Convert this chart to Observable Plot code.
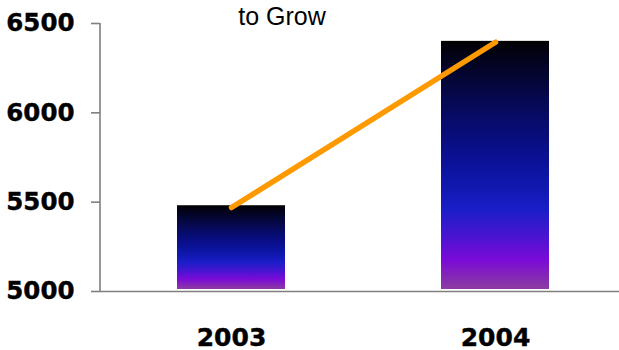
<!DOCTYPE html>
<html>
<head>
<meta charset="utf-8">
<script src="https://cdn.jsdelivr.net/npm/d3@7"></script>
<script src="https://cdn.jsdelivr.net/npm/@observablehq/plot@0.6"></script>
<style>
  html, body { margin: 0; padding: 0; background: #fff; }
  #chart svg { display: block; }
  .boldtxt text { stroke: #000; stroke-width: 0.4px; paint-order: stroke; }
</style>
</head>
<body>
<div id="chart"></div>
<script>
const years = ["2003", "2004"];
const barValues = [5480, 6400];
const lineValues = [5470, 6395];
const yTicks = [5000, 5500, 6000, 6500];
const titleText = "to Grow";

const bars = years.map((y, i) => ({year: y, value: barValues[i]}));
const line = years.map((y, i) => ({year: y, value: lineValues[i]}));

const gradStops = [
  [0, "#000000"], [0.05, "#020214"], [0.18, "#05073e"], [0.32, "#070b6a"],
  [0.46, "#0a1090"], [0.59, "#1018b0"], [0.68, "#1a1ec8"], [0.79, "#4a14d0"],
  [0.88, "#7a0ad8"], [1, "#8c3ca0"]
];

function gradientDefs() {
  const defs = d3.create("svg:defs");
  const g = defs.append("linearGradient")
    .attr("id", "barGrad").attr("x1", 0).attr("y1", 0).attr("x2", 0).attr("y2", 1);
  gradStops.forEach(([o, c]) => g.append("stop").attr("offset", o).attr("stop-color", c));
  return defs.node();
}

function yAxisLine(index, scales, values, dimensions) {
  const x = dimensions.marginLeft;
  return d3.create("svg:line")
    .attr("x1", x).attr("x2", x)
    .attr("y1", scales.y(d3.max(yTicks))).attr("y2", scales.y(d3.min(yTicks)))
    .attr("stroke", "#7f7f7f").attr("stroke-width", 1.6).node();
}

const labelFont = "'DejaVu Sans', 'Liberation Sans', Arial, sans-serif";

const chart = Plot.plot({
  width: 619,
  height: 350,
  marginLeft: 100,
  marginRight: 0,
  marginTop: 23,
  marginBottom: 59,
  style: {fontFamily: "'Liberation Sans', Arial, Helvetica, sans-serif", background: "#fff", overflow: "visible"},
  x: {domain: years, range: [177, 549.5], paddingInner: 0.592, paddingOuter: 0, axis: null, label: null},
  y: {domain: [5000, 6500], axis: null, label: null},
  marks: [
    gradientDefs,
    Plot.barY(bars, {x: "year", y1: 5000, y2: "value", fill: "url(#barGrad)", insetBottom: 2}),
    Plot.ruleY([5000], {stroke: "#7f7f7f", strokeWidth: 1.6}),
    yAxisLine,
    Plot.axisY({ticks: yTicks, label: null, tickSize: 9, tickPadding: 17, stroke: "#7f7f7f", strokeWidth: 1.6,
      fontSize: 24.5, fontWeight: "bold", fontFamily: labelFont, fill: "#000", className: "boldtxt",
      tickFormat: d => String(d)}),
    Plot.axisX({label: null, tickSize: 0, tickPadding: 37, fontSize: 25, fontWeight: "bold", fontFamily: labelFont,
      fill: "#000", className: "boldtxt"}),
    Plot.line(line, {x: "year", y: "value", stroke: "#ff9900", strokeWidth: 5.5, strokeLinecap: "round"}),
    Plot.text([titleText], {frameAnchor: "top", lineAnchor: "bottom", dx: -78, dy: 1, fontSize: 25, fill: "#000"})
  ]
});
document.getElementById("chart").append(chart);
</script>
</body>
</html>
